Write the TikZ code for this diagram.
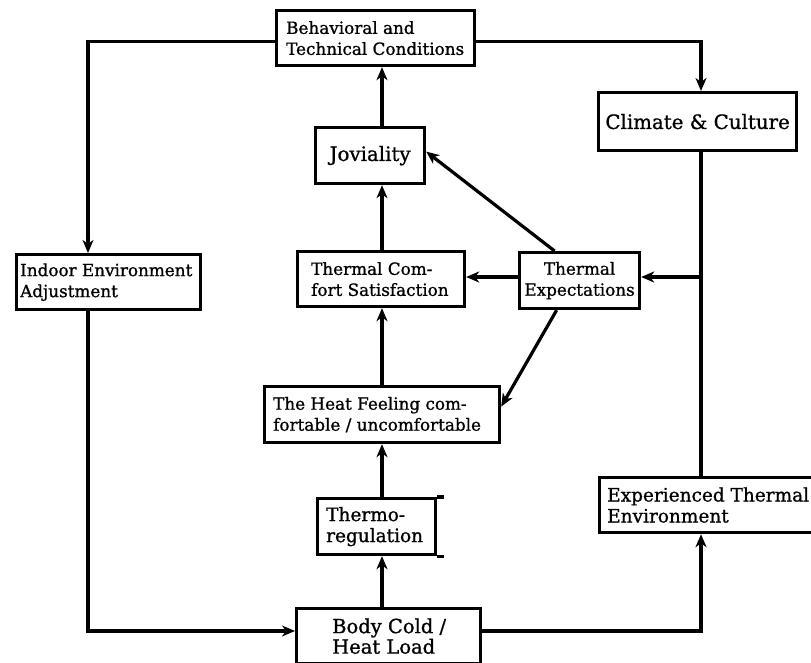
\documentclass[tikz,border=0pt]{standalone}
\usepackage{fontspec}
\setmainfont[FakeBold=1]{DejaVu Serif}
\usetikzlibrary{arrows.meta,calc}
\tikzset{
  box/.style={draw, line width=3.2pt, inner sep=0pt, anchor=north west},
  txt/.style={anchor=west, align=left, inner sep=0pt, font=\fontsize{16.8}{21}\selectfont},
  midtxt/.style={txt, font=\fontsize{18.5}{21}\selectfont},
  bigtxt/.style={anchor=center, align=center, inner sep=0pt, font=\fontsize{19.8}{21}\selectfont},
  conn/.style={line width=3.2pt},
  arr/.style={line width=3.2pt, -{Stealth[length=13pt,width=11pt,inset=4pt]}},
}
\begin{document}
\begin{tikzpicture}[x=1pt,y=-1pt]
\useasboundingbox (0,0) rectangle (811,663);
\clip (0,0) rectangle (811,663);
% boxes
\node[box, minimum width=198pt, minimum height=55pt] (beh) at (275,9) {};
\node[txt] at ([xshift=11pt]beh.west) {Behavioral and\\Technical Conditions};
\node[box, minimum width=198pt, minimum height=58pt] (clim) at (597,91) {};
\node[bigtxt] at (clim.center) {Climate \& Culture};
\node[box, minimum width=109pt, minimum height=56pt] (jov) at (314,126) {};
\node[bigtxt] at (jov.center) {Joviality};
\node[box, minimum width=167pt, minimum height=55pt] (tcs) at (296,250) {};
\node[txt] at ([xshift=15pt]tcs.west) {Thermal Com-\\fort Satisfaction};
\node[box, minimum width=120pt, minimum height=56pt] (te) at (518,251) {};
\node[txt, anchor=center, align=center] at (te.center) {Thermal\\Expectations};
\node[box, minimum width=184pt, minimum height=55pt] (ind) at (15,253) {};
\node[txt] at ([xshift=5pt]ind.west) {Indoor Environment\\Adjustment};
\node[box, minimum width=235pt, minimum height=56pt] (heat) at (263,385) {};
\node[txt] at ([xshift=10pt]heat.west) {The Heat Feeling com-\\fortable / uncomfortable};
\node[box, minimum width=118pt, minimum height=56pt] (thermo) at (316,497) {};
\node[midtxt] at ([xshift=10pt]thermo.west) {Thermo-\\regulation};
\draw[conn] (thermo.north east) -- ++(7,0);
\draw[conn] (thermo.south east) -- ++(7,0);
\node[box, minimum width=240pt, minimum height=55pt] (exp) at (598,476) {};
\node[midtxt] at ([xshift=9pt]exp.west) {Experienced Thermal\\Environment};
\node[box, minimum width=184pt, minimum height=55pt] (body) at (295,607) {};
\node[txt, font=\fontsize{19.5}{20.5}\selectfont] at ([xshift=37pt]body.west) {Body Cold /\\Heat Load};
% guide coordinates
\coordinate (spine) at (382,0);
\coordinate (rline) at (701,0);
\coordinate (lline) at (88,0);
% connectors
\draw[arr] (jov.north -| spine) -- (beh.south -| spine);
\draw[arr] (tcs.north -| spine) -- (jov.south -| spine);
\draw[arr] (heat.north -| spine) -- (tcs.south -| spine);
\draw[arr] (thermo.north -| spine) -- (heat.south -| spine);
\draw[arr] (body.north -| spine) -- (thermo.south -| spine);
\draw[arr] ([yshift=-3.5pt]beh.west) -| (ind.north -| lline);
\draw[arr] ([yshift=-3.5pt]beh.east) -| (clim.north -| rline);
\draw[conn] (clim.south -| rline) -- (exp.north -| rline);
\draw[arr] (te.west |- 0,277) -- (tcs.east |- 0,277);
\draw[arr] (rline |- 0,277) -- (te.east |- 0,277);
\draw[arr] ([xshift=-25pt]te.north) -- ([yshift=4pt]jov.east);
\draw[arr] ([xshift=-23pt]te.south) -- ([yshift=8pt]heat.east);
\draw[arr] (ind.south -| lline) |- (body.west |- 0,631);
\draw[arr] (body.east |- 0,631) -| (exp.south -| rline);
\end{tikzpicture}
\end{document}
